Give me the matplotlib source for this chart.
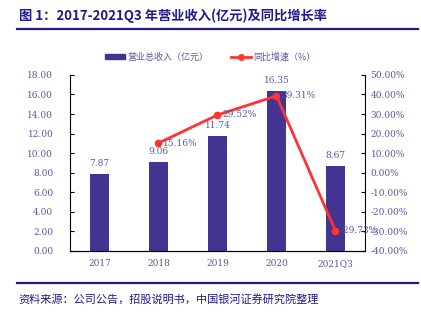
import matplotlib.pyplot as plt
from matplotlib.lines import Line2D
from matplotlib.patches import Patch

plt.rcParams['font.family'] = ['Noto Sans CJK SC', 'DejaVu Sans']

years = ['2017', '2018', '2019', '2020', '2021Q3']
revenue = [7.87, 9.06, 11.74, 16.35, 8.67]
growth_years = ['2018', '2019', '2020', '2021Q3']
growth = [15.16, 29.52, 39.31, -29.73]

bar_color = '#433492'
line_color = '#FF3333'
text_color = '#5A56A6'
navy = '#1F1A8C'

fig = plt.figure(figsize=(4.21, 3.23), dpi=100)
fig.text(0.045, 0.952, '图 1：2017-2021Q3 年营业收入(亿元)及同比增长率', fontsize=9.5,
         fontweight='bold', color=navy, va='center', ha='left')
fig.add_artist(Line2D([0.04, 0.993], [0.91, 0.91], color=navy, lw=1.6))
fig.add_artist(Line2D([0.04, 0.993], [0.124, 0.124], color=navy, lw=1.6))
fig.text(0.045, 0.074, '资料来源：公司公告，招股说明书，中国银河证券研究院整理', fontsize=8,
         style='italic', color=navy, va='center', ha='left')

ax = fig.add_axes([0.166, 0.223, 0.701, 0.545])
x = list(range(len(years)))
ax.bar(x, revenue, width=0.32, color=bar_color, zorder=2)
for xi, v in zip(x, revenue):
    ax.text(xi, v + 0.6, f'{v:.2f}', ha='center', va='bottom', fontsize=6.5,
            color=text_color, family='DejaVu Serif')
ax.set_ylim(0, 18)
ax.set_yticks(range(0, 19, 2))
ax.set_yticklabels([f'{t:.2f}' for t in range(0, 19, 2)])
ax.set_xlim(-0.5, len(years) - 0.5)
ax.set_xticks(x)
ax.set_xticklabels(years)
ax.tick_params(axis='x', length=0, pad=6)
ax.tick_params(axis='y', direction='in', length=3, pad=12)
for lab in ax.get_xticklabels() + ax.get_yticklabels():
    lab.set_color(text_color)
    lab.set_fontsize(6.5)
    lab.set_family('DejaVu Serif')
for s in ['top', 'right']:
    ax.spines[s].set_visible(False)

ax2 = ax.twinx()
gx = [years.index(y) for y in growth_years]
ax2.plot(gx, growth, color=line_color, lw=2, marker='o', ms=4.5, zorder=3)
for xi, v in zip(gx, growth):
    ax2.text(xi + 0.08, v, f'{v:.2f}%', ha='left', va='center', fontsize=6.5,
             color=text_color, family='DejaVu Serif')
ax2.set_ylim(-40, 50)
ax2.set_yticks(range(-40, 51, 10))
ax2.set_yticklabels([f'{t:.2f}%' for t in range(-40, 51, 10)])
ax2.tick_params(axis='y', direction='in', length=3, pad=4)
for lab in ax2.get_yticklabels():
    lab.set_color(text_color)
    lab.set_fontsize(6.5)
    lab.set_family('DejaVu Serif')
for s in ['top', 'left']:
    ax2.spines[s].set_visible(False)

handles = [Patch(color=bar_color, label='营业总收入（亿元）'),
           Line2D([], [], color=line_color, lw=2, marker='o', ms=4, label='同比增速（%）')]
leg = fig.legend(handles=handles, loc='center', bbox_to_anchor=(0.5, 0.823), ncol=2,
                 frameon=False, fontsize=6.5, handlelength=2.2, handleheight=0.5,
                 columnspacing=2.5, handletextpad=0.3)
for t in leg.get_texts():
    t.set_color(text_color)

fig.savefig('out.png', dpi=100)
